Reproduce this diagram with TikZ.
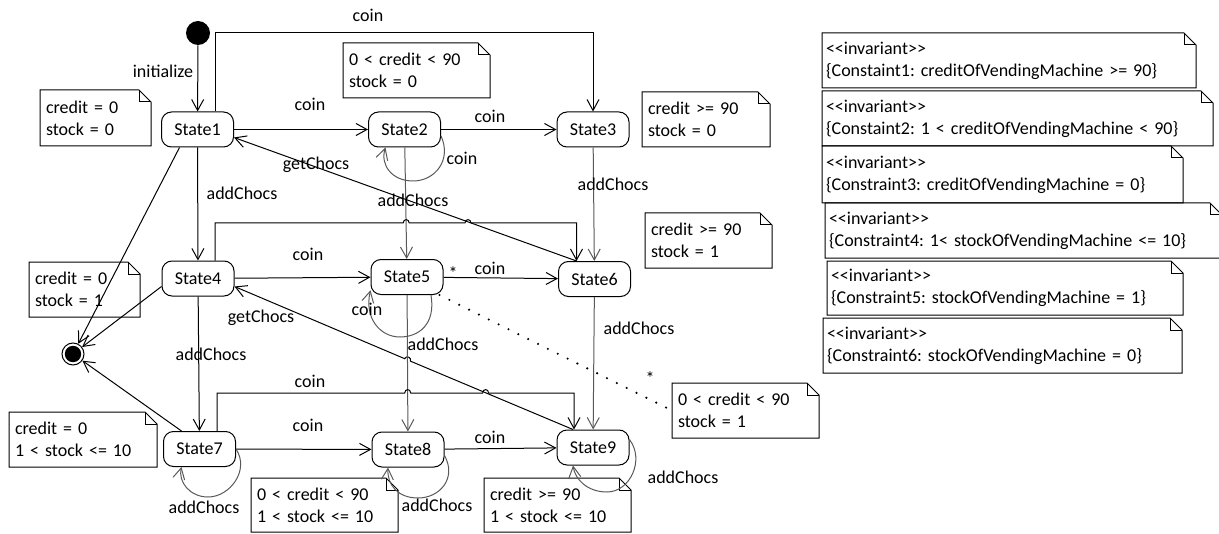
\documentclass[tikz,border=0pt]{standalone}
\usepackage{fontspec}
\setmainfont{Carlito}
\frenchspacing
\usetikzlibrary{arrows.meta,positioning,calc}
\tikzset{
  state/.style={draw,rounded corners=5pt,minimum width=36pt,minimum height=17.5pt,inner sep=0pt},
  startdot/.style={circle,fill=black,minimum size=12pt,inner sep=0pt},
  enddot/.style={circle,draw,minimum size=11pt,inner sep=0pt,
    path picture={\fill (path picture bounding box.center) circle (4.1pt);}},
  note/.style={anchor=north west,inner xsep=3pt,inner ysep=0pt,outer sep=0pt,align=left,minimum height=27.5pt},
  inv/.style={note,inner xsep=2pt},
  lbl/.style={inner sep=0pt},
  trans/.style={-{Straight Barb[length=5.5pt,width=6pt]}},
  greyline/.style={draw=black!65},
  selfloop/.style={trans,draw=black!65},
  dotlink/.style={line cap=round,dash pattern=on 0pt off 5.5pt,line width=1.2pt}
}
\begin{document}
\begin{tikzpicture}[x=0.5pt,y=-0.5pt,font=\fontsize{9}{10.9}\selectfont,line width=0.5pt]
\useasboundingbox (0,0) rectangle (1219,534);
% states
\node[state] (s1) at (197.5,129.5) {State1};
\node[state] (s2) at (404.5,129.5) {State2};
\node[state] (s3) at (593,129.5) {State3};
\node[state] (s4) at (198,278.5) {State4};
\node[state] (s5) at (407,277) {State5};
\node[state] (s6) at (594.5,279) {State6};
\node[state] (s7) at (199.5,449) {State7};
\node[state] (s8) at (408,449.5) {State8};
\node[state] (s9) at (593,447.5) {State9};
\node[startdot] (init) at (198,33) {};
\node[enddot] (fin) at (73,354) {};
% notes on the states
\node[note,text width=49.5pt,minimum height=28pt] (n1) at (40,90) {credit = 0\\stock = 0};
\node[note,text width=67.5pt] (n2) at (343,43) {0 < credit < 90\\stock = 0};
\node[note,text width=58pt] (n3) at (642,92) {credit >= 90\\stock = 0};
\node[note,text width=57.5pt] (n4) at (645,213) {credit >= 90\\stock = 1};
\node[note,text width=49.5pt] (n5) at (29,262) {credit = 0\\stock = 1};
\node[note,text width=68pt] (n6) at (9,412) {credit = 0\\1 < stock <= 10};
\node[note,text width=67.5pt,minimum height=27pt] (n7) at (251,478) {0 < credit < 90\\1 < stock <= 10};
\node[note,text width=67.5pt,minimum height=27pt] (n8) at (484,478) {credit >= 90\\1 < stock <= 10};
\node[note,text width=67.5pt] (n9) at (672,383) {0 < credit < 90\\stock = 1};
% invariants
\node[inv,text width=183pt] (i1) at (822,33) {{<}{<}invariant{>}{>}\\\{Constaint1: creditOfVendingMachine >= 90\}};
\node[inv,text width=191.5pt] (i2) at (822,91) {{<}{<}invariant{>}{>}\\\{Constaint2: 1 < creditOfVendingMachine < 90\}};
\node[inv,text width=176.5pt,minimum height=28.5pt] (i3) at (822,146) {{<}{<}invariant{>}{>}\\\{Constraint3: creditOfVendingMachine = 0\}};
\node[inv,text width=194.5pt] (i4) at (825,203) {{<}{<}invariant{>}{>}\\\{Constraint4: 1< stockOfVendingMachine <= 10\}};
\node[inv,text width=174pt,minimum height=27pt] (i5) at (827,261) {{<}{<}invariant{>}{>}\\\{Constraint5: stockOfVendingMachine = 1\}};
\node[inv,text width=175.5pt] (i6) at (823,318) {{<}{<}invariant{>}{>}\\\{Constraint6: stockOfVendingMachine = 0\}};
\foreach \n in {n1,n2,n3,n4,n5,n6,n7,n8,n9,i1,i2,i3,i4,i5,i6}{
  \draw (\n.north west) -- ([xshift=-6pt]\n.north east) -- ([yshift=-6pt]\n.north east)
    -- (\n.south east) -- (\n.south west) -- cycle;
  \draw ([xshift=-6pt]\n.north east) |- ([yshift=-6pt]\n.north east);
}
% transitions
\draw[trans] (init) -- (s1);
\node[lbl] (l1) at (163,71) {initialize};
\draw[trans] ([xshift=8.75pt]s1.north) -- (215,33) -| (s3.north);
\node[lbl] (l2) at (368,15) {coin};
\draw[trans] (s1) -- (s2);
\node[lbl] (l3) at (310,104) {coin};
\draw[selfloop] (s2.-10) .. controls (452,160) and (435,181) .. (413,181)
  .. controls (392,181) and (380,165) .. ([xshift=-9.5pt]s2.south);
\node[lbl] (l4) at (462,158) {coin};
\draw[trans] (s2) -- (s3);
\node[lbl] (l5) at (490,116) {coin};
\draw[trans] (s1) -- (s4);
\node[lbl] (l6) at (242,193) {addChocs};
\draw[trans,greyline] (s2) -- (s5);
\node[lbl] (l7) at (413,200) {addChocs};
\draw[trans,greyline] (s3) -- (s6);
\node[lbl] (l8) at (613,184) {addChocs};
\draw[trans] ([xshift=-9pt]s6.north) -- ([yshift=-4pt]s1.east);
\node[lbl] (l9) at (316,165) {getChocs};
\draw[trans] ([xshift=8.5pt]s4.north) -- (215,223) -- (403.2,223)
  .. controls (403.2,218.5) and (409.2,218.5) .. (409.2,223) -- (465,223)
  .. controls (465,218.5) and (471,218.5) .. (471,223) -| ([xshift=-9pt]s6.north);
\draw[trans] (s4) -- (s5);
\node[lbl] (l10) at (308,254) {coin};
\draw[selfloop] ([xshift=12pt]s5.south) .. controls (436,325) and (418,337) .. (400,337)
  .. controls (380,337) and (364,318) .. (s5.200);
\node[lbl] (l11) at (367,309) {coin};
\draw[trans] (s5) -- (s6);
\node[lbl] (l12) at (490,268) {coin};
\node[lbl] (st1) at (453,273) {*};
\draw[dotlink] ([xshift=-2pt]s5.south east) -- (n9.west);
\node[lbl] (st2) at (650,378) {*};
\draw[trans,greyline] (s6) -- (s9);
\node[lbl] (l13) at (639,328) {addChocs};
% to the final state
\draw[trans] ([xshift=-9pt]s1.south) -- (fin);
\draw[trans] ([yshift=-4pt]s4.west) -- (fin);
\draw[trans] ([xshift=-9pt]s7.north) -- (fin);
\draw[trans] (s4) -- (s7);
\node[lbl] (l14) at (211,354) {addChocs};
\draw[trans] ([xshift=-10pt]s9.north) -- (410.3,361.1)
  .. controls (411.8,357.4) and (406.3,355) .. (404.7,358.7) -- ([yshift=-4pt]s4.east);
\node[lbl] (l15) at (261,318) {getChocs};
\draw[trans,greyline] (s5) -- (s8);
\node[lbl] (l16) at (443,344) {addChocs};
\draw[trans] ([xshift=8.75pt]s7.north) -- (217,393) -- (404.7,393)
  .. controls (404.7,388.5) and (410.7,388.5) .. (410.7,393) -- (482.6,393)
  .. controls (482.6,388.5) and (488.6,388.5) .. (488.6,393) -| ([xshift=-9.5pt]s9.north);
\node[lbl] (l17) at (310,381) {coin};
\draw[trans] (s7) -- (s8);
\node[lbl] (l18) at (308,425) {coin};
\draw[trans] (s8) -- (s9);
\node[lbl] (l19) at (490,437) {coin};
\draw[selfloop] (s7.east) .. controls (250,470) and (230,497) .. (208,497)
  .. controls (190,497) and (178,482) .. ([xshift=-9pt]s7.south);
\node[lbl] (l20) at (204,507) {addChocs};
\draw[selfloop] ([yshift=-3pt]s8.east) .. controls (457,478) and (440,498) .. (418,498)
  .. controls (398,498) and (387,485) .. ([xshift=-10pt]s8.south);
\node[lbl] (l21) at (437,505) {addChocs};
\draw[selfloop] ([yshift=4pt]s9.east) .. controls (645,460) and (630,492) .. (607,492)
  .. controls (587,492) and (575,479) .. ([xshift=-10pt]s9.south);
\node[lbl] (l22) at (683,477) {addChocs};
\end{tikzpicture}
\end{document}
